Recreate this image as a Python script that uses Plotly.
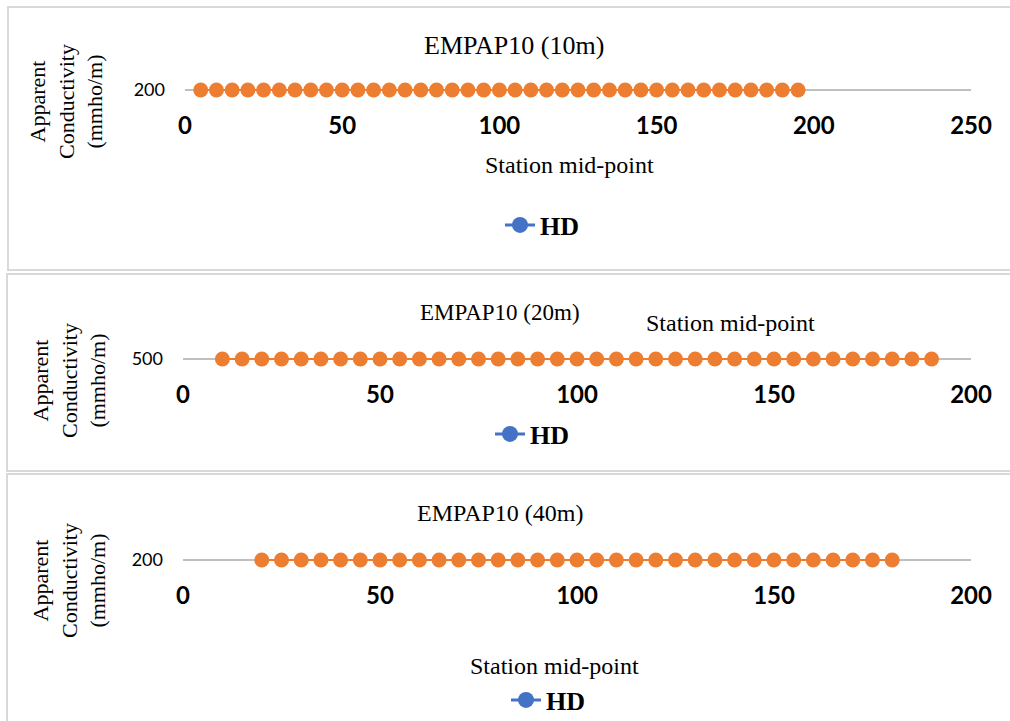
import plotly.graph_objects as go

W, H = 1010, 721


def px(x):
    return x / W


def py(y):
    return 1 - y / H


# ---------------- data ----------------
titles = ["EMPAP10 (10m)", "EMPAP10 (20m)", "EMPAP10 (40m)"]
series_name = "HD"

station_10m = [5, 10, 15, 20, 25, 30, 35, 40, 45, 50, 55, 60, 65, 70, 75, 80, 85, 90, 95, 100,
               105, 110, 115, 120, 125, 130, 135, 140, 145, 150, 155, 160, 165, 170, 175, 180,
               185, 190, 195]
hd_10m = [200, 200, 200, 200, 200, 200, 200, 200, 200, 200, 200, 200, 200, 200, 200, 200, 200,
          200, 200, 200, 200, 200, 200, 200, 200, 200, 200, 200, 200, 200, 200, 200, 200, 200,
          200, 200, 200, 200, 200]

station_20m = [10, 15, 20, 25, 30, 35, 40, 45, 50, 55, 60, 65, 70, 75, 80, 85, 90, 95, 100, 105,
               110, 115, 120, 125, 130, 135, 140, 145, 150, 155, 160, 165, 170, 175, 180, 185, 190]
hd_20m = [500, 500, 500, 500, 500, 500, 500, 500, 500, 500, 500, 500, 500, 500, 500, 500, 500,
          500, 500, 500, 500, 500, 500, 500, 500, 500, 500, 500, 500, 500, 500, 500, 500, 500,
          500, 500, 500]

station_40m = [20, 25, 30, 35, 40, 45, 50, 55, 60, 65, 70, 75, 80, 85, 90, 95, 100, 105, 110, 115,
               120, 125, 130, 135, 140, 145, 150, 155, 160, 165, 170, 175, 180]
hd_40m = [200, 200, 200, 200, 200, 200, 200, 200, 200, 200, 200, 200, 200, 200, 200, 200, 200,
          200, 200, 200, 200, 200, 200, 200, 200, 200, 200, 200, 200, 200, 200, 200, 200]

x_ticks_10m = [0, 50, 100, 150, 200, 250]
x_ticks_other = [0, 50, 100, 150, 200]
y_tick_10m = [200]
y_tick_20m = [500]
y_tick_40m = [200]

# ---------------- styling ----------------
ORANGE = "#ED7D31"
BLUE = "#4472C4"
GRID = "#BFBFBF"
BORDER = "#D9D9D9"
SERIF = "Liberation Serif"
SANS = "Lato"

fig = go.Figure()

panels = [
    dict(x=station_10m, y=hd_10m, ytick=y_tick_10m, xt=x_ticks_10m, xr=[0, 250],
         xdom=[185, 971], grid_y=90),
    dict(x=station_20m, y=hd_20m, ytick=y_tick_20m, xt=x_ticks_other, xr=[0, 200],
         xdom=[183, 971], grid_y=359),
    dict(x=station_40m, y=hd_40m, ytick=y_tick_40m, xt=x_ticks_other, xr=[0, 200],
         xdom=[183, 971], grid_y=560),
]

legend_pos = [(542, 225), (532, 434), (548, 700)]

layout_axes = {}
for i, p in enumerate(panels):
    n = "" if i == 0 else str(i + 1)
    fig.add_trace(go.Scatter(
        x=p["x"], y=p["y"], mode="lines+markers",
        line=dict(color=ORANGE, width=2),
        marker=dict(color=ORANGE, size=15, line=dict(width=0)),
        xaxis="x" + n, yaxis="y" + n, showlegend=False, name=series_name,
    ))
    # legend entry (Excel shows this series key in blue)
    fig.add_trace(go.Scatter(
        x=[None], y=[None], mode="lines+markers",
        line=dict(color=BLUE, width=3),
        marker=dict(color=BLUE, size=16),
        xaxis="x" + n, yaxis="y" + n, showlegend=True, name=series_name,
        legend="legend" + n,
    ))
    yv = p["ytick"][0]
    gy = p["grid_y"]
    layout_axes["xaxis" + n] = dict(
        domain=[px(p["xdom"][0]), px(p["xdom"][1])], anchor="y" + n,
        range=p["xr"], tickvals=p["xt"], showgrid=False, zeroline=False, showline=False,
        ticks="", tickfont=dict(family=SANS, size=24, color="black", weight="bold"),
        ticklabelstandoff=4, automargin=False,
    )
    layout_axes["yaxis" + n] = dict(
        domain=[py(gy + 15), py(gy - 15)], anchor="x" + n,
        range=[yv - 1, yv + 1], tickvals=p["ytick"], showgrid=True, gridcolor=GRID,
        gridwidth=2, zeroline=False, showline=False, ticks="",
        tickfont=dict(family=SANS, size=18, color="black"), ticklabelstandoff=19,
        automargin=False,
    )
    lx, ly = legend_pos[i]
    layout_axes["legend" + n] = dict(
        x=px(lx), y=py(ly), xanchor="center", yanchor="middle", orientation="v",
        font=dict(family=SERIF, size=26, color="black", weight="bold"),
        bgcolor="rgba(0,0,0,0)", borderwidth=0,
    )

fig.update_layout(**layout_axes)

annotations = []
title_info = [(514, 46, 26), (500, 312, 23), (500, 513, 24)]
for t, (tx, ty, ts) in zip(titles, title_info):
    annotations.append(dict(text=t, x=px(tx), y=py(ty), xref="paper", yref="paper",
                            xanchor="center", yanchor="middle", showarrow=False,
                            font=dict(family=SERIF, size=ts, color="black")))

xtitle_info = [(569, 165), (730, 323), (554, 666)]
for (tx, ty) in xtitle_info:
    annotations.append(dict(text="Station mid-point", x=px(tx), y=py(ty), xref="paper",
                            yref="paper", xanchor="center", yanchor="middle", showarrow=False,
                            font=dict(family=SERIF, size=24, color="black")))

ytitle_info = [(66, 102), (69, 381), (69, 581)]
for (tx, ty) in ytitle_info:
    annotations.append(dict(text="Apparent<br>Conductivity<br>(mmho/m)", x=px(tx), y=py(ty),
                            xref="paper", yref="paper", xanchor="center", yanchor="middle",
                            showarrow=False, textangle=-90,
                            font=dict(family=SERIF, size=22, color="black")))

shapes = []
for (x0, y0, y1) in [(8, 7, 270), (7, 274, 471), (7, 474, 740)]:
    shapes.append(dict(type="rect", xref="paper", yref="paper",
                       x0=px(x0), x1=px(1030), y0=py(y1), y1=py(y0),
                       line=dict(color=BORDER, width=2), fillcolor="rgba(0,0,0,0)",
                       layer="below"))

fig.update_layout(
    width=W, height=H, margin=dict(l=0, r=0, t=0, b=0, autoexpand=False),
    paper_bgcolor="white", plot_bgcolor="white",
    annotations=annotations, shapes=shapes,
)

fig.write_html("out.html")
